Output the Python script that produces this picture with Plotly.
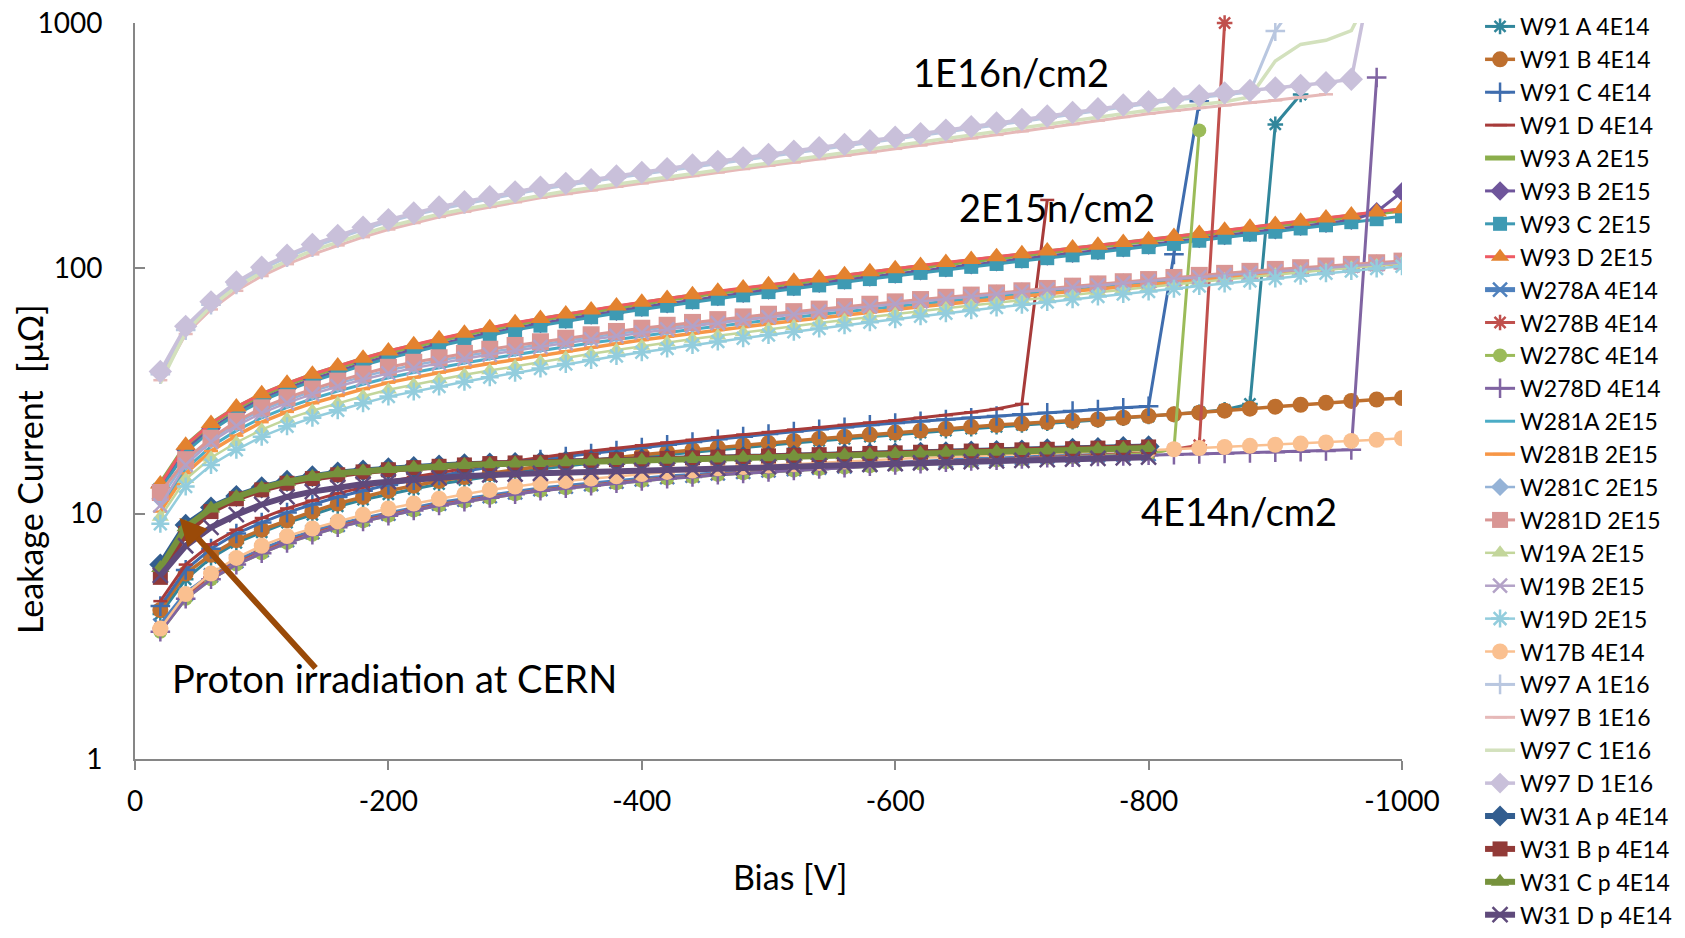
import plotly.graph_objects as go

# ---------------- data ----------------
BIAS = [-20, -40, -60, -80, -100, -120, -140, -160, -180, -200,
        -220, -240, -260, -280, -300, -320, -340, -360, -380, -400,
        -420, -440, -460, -480, -500, -520, -540, -560, -580, -600,
        -620, -640, -660, -680, -700, -720, -740, -760, -780, -800,
        -820, -840, -860, -880, -900, -920, -940, -960, -980, -1000]

X_TICKS = [0, -200, -400, -600, -800, -1000]
X_TICK_TEXT = ["0", "-200", "-400", "-600", "-800", "-1000"]
Y_TICKS = [1, 10, 100, 1000]
Y_TICK_TEXT = ["1", "10", "100", "1000"]

W91_A = [3.9, 5.4, 6.6, 7.6, 8.4, 9.2, 9.9, 10.7, 11.4, 12.0,
         12.6, 13.2, 13.7, 14.2, 14.7, 15.2, 15.6, 16.1, 16.5, 17.0,
         17.4, 17.8, 18.2, 18.6, 19.0, 19.4, 19.8, 20.2, 20.6, 21.0,
         21.4, 21.8, 22.2, 22.6, 23.0, 23.4, 23.7, 24.1, 24.5, 24.9,
         25.4, 25.9, 26.5, 28.0, 386, 511]
W91_B = [4.05, 5.7, 6.8, 7.8, 8.6, 9.4, 10.2, 11.0, 11.7, 12.4,
         13.0, 13.6, 14.1, 14.6, 15.1, 15.6, 16.0, 16.5, 16.9, 17.4,
         17.8, 18.2, 18.6, 19.0, 19.4, 19.8, 20.2, 20.6, 21.0, 21.4,
         21.8, 22.2, 22.6, 23.0, 23.3, 23.6, 23.9, 24.2, 24.6, 25.0,
         25.4, 25.8, 26.3, 26.8, 27.3, 27.8, 28.3, 28.8, 29.2, 29.6]
W91_C = [4.2, 5.9, 7.2, 8.3, 9.2, 10.1, 10.9, 11.7, 12.4, 13.1,
         13.7, 14.3, 14.9, 15.5, 16.0, 16.6, 17.1, 17.6, 18.1, 18.6,
         19.1, 19.6, 20.1, 20.6, 21.1, 21.6, 22.1, 22.5, 23.0, 23.4,
         23.8, 24.2, 24.6, 25.0, 25.4, 25.8, 26.2, 26.6, 27.0, 27.4,
         114, 480]
W91_D = [4.4, 6.2, 7.5, 8.6, 9.6, 10.5, 11.3, 12.1, 12.8, 13.5,
         14.1, 14.7, 15.3, 15.9, 16.4, 17.0, 17.5, 18.0, 18.5, 19.0,
         19.5, 20.0, 20.5, 21.0, 21.5, 22.0, 22.5, 23.0, 23.5, 24.0,
         24.6, 25.2, 25.9, 26.7, 28.0, 190]
W93_A = [13.2, 18.9, 23.2, 27.0, 30.5, 33.7, 36.7, 39.7, 42.6, 45.6,
         48.3, 51.1, 53.8, 56.6, 59.4, 61.9, 64.4, 67.0, 69.5, 72.1,
         74.6, 77.2, 79.7, 82.3, 84.8, 87.6, 90.3, 93.1, 95.8, 98.6,
         101.5, 104.5, 107.5, 110.5, 113.4, 116.6, 119.8, 123.0, 126.1, 129.3,
         133.3, 137.4, 141.4, 145.4, 149.5, 154.1, 158.8, 163.4, 168.1, 172.8]
W93_B = [12.8, 18.2, 22.2, 25.9, 29.4, 32.4, 35.3, 38.1, 41.0, 43.9,
         46.5, 49.2, 51.8, 54.5, 57.1, 59.6, 62.0, 64.5, 66.9, 69.4,
         71.8, 74.3, 76.7, 79.2, 81.6, 84.3, 86.9, 89.6, 92.2, 94.9,
         97.7, 100.6, 103.4, 106.3, 109.1, 112.2, 115.3, 118.3, 121.4, 124.4,
         128.3, 132.2, 136.1, 139.9, 143.8, 148.3, 152.8, 157.0, 170.0, 205.0]
W93_C = [12.5, 17.8, 21.8, 25.4, 28.8, 31.8, 34.6, 37.4, 40.2, 43.0,
         45.6, 48.2, 50.8, 53.4, 56.0, 58.4, 60.8, 63.2, 65.6, 68.0,
         70.4, 72.8, 75.2, 77.6, 80.0, 82.6, 85.2, 87.8, 90.4, 93.0,
         95.8, 98.6, 101.4, 104.2, 107.0, 110.0, 113.0, 116.0, 119.0, 122.0,
         125.8, 129.6, 133.4, 137.2, 141.0, 145.4, 149.8, 154.2, 158.6, 163.0]
W93_D = [13.2, 19.0, 23.3, 27.2, 30.8, 34.0, 37.0, 40.0, 43.0, 46.0,
         48.8, 51.6, 54.4, 57.2, 60.0, 62.5, 65.1, 67.7, 70.3, 72.8,
         75.4, 78.0, 80.6, 83.1, 85.7, 88.5, 91.3, 94.1, 96.9, 99.7,
         102.6, 105.6, 108.6, 111.6, 114.6, 117.8, 121.0, 124.2, 127.5, 130.7,
         134.7, 138.8, 142.9, 147.0, 151.0, 155.7, 160.4, 165.1, 169.8, 175.0]
W278A = [3.5, 4.7, 5.6, 6.4, 7.1, 7.8, 8.4, 9.0, 9.5, 10.0,
         10.5, 11.0, 11.4, 11.8, 12.2, 12.6, 12.9, 13.2, 13.5, 13.8,
         14.1, 14.3, 14.6, 14.8, 15.0, 15.2, 15.4, 15.6, 15.8, 16.0,
         16.2, 16.4, 16.6, 16.7, 16.9, 17.1, 17.2, 17.3, 17.4, 17.5]
W278B = [3.4, 4.6, 5.5, 6.3, 7.0, 7.7, 8.3, 8.9, 9.4, 9.9,
         10.4, 10.9, 11.3, 11.7, 12.1, 12.5, 12.8, 13.1, 13.4, 13.7,
         14.0, 14.2, 14.5, 14.7, 14.9, 15.1, 15.3, 15.5, 15.7, 15.9,
         16.1, 16.3, 16.5, 16.6, 16.8, 17.0, 17.1, 17.3, 17.5, 17.7,
         18.3, 19.0, 1000]
W278C = [3.3, 4.5, 5.4, 6.2, 6.9, 7.6, 8.2, 8.8, 9.3, 9.8,
         10.3, 10.8, 11.2, 11.6, 12.0, 12.4, 12.7, 13.0, 13.3, 13.6,
         13.9, 14.1, 14.4, 14.6, 14.8, 15.0, 15.2, 15.4, 15.6, 15.8,
         16.0, 16.2, 16.4, 16.5, 16.7, 16.9, 17.0, 17.2, 17.4, 17.6,
         18.3, 365]
W278D = [3.3, 4.5, 5.4, 6.2, 6.9, 7.6, 8.2, 8.8, 9.3, 9.8,
         10.3, 10.8, 11.2, 11.6, 12.0, 12.4, 12.7, 13.0, 13.3, 13.6,
         13.9, 14.1, 14.4, 14.6, 14.8, 15.0, 15.2, 15.4, 15.6, 15.8,
         16.0, 16.2, 16.4, 16.5, 16.7, 16.9, 17.0, 17.1, 17.2, 17.3,
         17.4, 17.5, 17.6, 17.7, 17.8, 17.9, 18.0, 18.2, 600]
W281A = [10.6, 15.2, 18.8, 21.8, 24.6, 27.1, 29.4, 31.6, 33.7, 35.8,
         37.6, 39.4, 41.1, 42.8, 44.5, 46.2, 47.9, 49.6, 51.3, 53.0,
         54.7, 56.4, 58.1, 59.8, 61.5, 63.2, 64.9, 66.6, 68.3, 70.0,
         71.7, 73.4, 75.1, 76.8, 78.5, 80.2, 81.9, 83.6, 85.3, 87.0,
         88.8, 90.6, 92.4, 94.2, 96.0, 97.8, 99.6, 101.4, 103.2, 105.0]
W281B = [10.2, 14.6, 18.0, 20.8, 23.6, 26.0, 28.2, 30.2, 32.2, 34.2,
         35.9, 37.6, 39.3, 40.9, 42.5, 44.2, 45.9, 47.6, 49.3, 51.0,
         52.7, 54.4, 56.1, 57.7, 59.4, 61.1, 62.8, 64.5, 66.2, 67.9,
         69.7, 71.5, 73.3, 75.1, 76.9, 78.8, 80.6, 82.4, 84.2, 86.0,
         87.9, 89.8, 91.7, 93.6, 95.5, 97.4, 99.3, 101.2, 103.1, 105.0]
W281C = [11.5, 16.3, 20.0, 23.4, 26.4, 29.0, 31.5, 33.9, 36.2, 38.4,
         40.3, 42.1, 43.9, 45.6, 47.3, 49.0, 50.7, 52.4, 54.1, 55.8,
         57.5, 59.1, 60.8, 62.4, 64.1, 65.7, 67.4, 69.0, 70.7, 72.3,
         74.0, 75.6, 77.3, 78.9, 80.6, 82.3, 84.1, 85.8, 87.6, 89.3,
         91.1, 92.8, 94.6, 96.3, 98.1, 99.7, 101.4, 103.0, 104.7, 106.3]
W281D = [12.2, 16.6, 20.3, 23.8, 27.0, 29.7, 32.2, 34.7, 37.1, 39.5,
         41.4, 43.2, 45.0, 46.8, 48.5, 50.2, 51.9, 53.6, 55.3, 57.0,
         58.6, 60.2, 61.8, 63.4, 65.0, 66.6, 68.2, 69.8, 71.4, 73.0,
         74.6, 76.2, 77.8, 79.4, 81.0, 82.8, 84.6, 86.4, 88.2, 90.0,
         91.8, 93.6, 95.4, 97.2, 99.0, 100.6, 102.2, 103.8, 105.4, 107.0]
W19A = [9.7, 13.8, 16.9, 19.5, 22.0, 24.3, 26.3, 28.2, 30.1, 32.0,
        33.6, 35.2, 36.8, 38.3, 39.9, 41.6, 43.2, 44.9, 46.5, 48.2,
        49.8, 51.5, 53.1, 54.8, 56.4, 58.1, 59.9, 61.6, 63.4, 65.1,
        66.9, 68.7, 70.6, 72.4, 74.3, 76.2, 78.1, 80.0, 81.9, 83.8,
        85.9, 88.0, 90.1, 92.2, 94.3, 96.4, 98.5, 100.6, 102.7, 104.8]
W19B = [10.8, 15.8, 19.6, 22.8, 25.7, 28.3, 30.7, 33.0, 35.2, 37.3,
        39.2, 41.0, 42.8, 44.5, 46.2, 47.9, 49.6, 51.3, 53.0, 54.7,
        56.4, 58.1, 59.8, 61.5, 63.2, 64.9, 66.6, 68.3, 70.0, 71.7,
        73.4, 75.1, 76.8, 78.5, 80.2, 81.9, 83.6, 85.3, 87.0, 88.7,
        90.4, 92.1, 93.8, 95.5, 97.2, 98.9, 100.6, 102.3, 104.0, 105.7]
W19D = [9.1, 12.9, 15.8, 18.2, 20.6, 22.7, 24.6, 26.4, 28.2, 30.0,
        31.5, 33.0, 34.5, 36.0, 37.5, 39.1, 40.7, 42.3, 43.9, 45.5,
        47.1, 48.7, 50.3, 51.9, 53.5, 55.2, 56.9, 58.6, 60.3, 62.0,
        63.8, 65.6, 67.4, 69.2, 71.0, 72.9, 74.8, 76.7, 78.6, 80.5,
        82.6, 84.7, 86.8, 88.9, 91.0, 93.2, 95.4, 97.6, 99.8, 102.0]
W17B = [3.4, 4.7, 5.7, 6.6, 7.4, 8.1, 8.7, 9.3, 9.9, 10.5,
        11.0, 11.5, 12.0, 12.5, 12.9, 13.3, 13.6, 13.9, 14.2, 14.5,
        14.8, 15.0, 15.3, 15.5, 15.7, 15.9, 16.1, 16.3, 16.5, 16.7,
        16.9, 17.0, 17.2, 17.3, 17.5, 17.6, 17.8, 17.9, 18.0, 18.1,
        18.3, 18.5, 18.7, 18.9, 19.1, 19.3, 19.5, 19.8, 20.0, 20.3]
W97_A = [37, 56, 71, 86, 99, 111, 122, 133, 144, 155,
         165, 174, 183, 192, 201, 210, 218, 226, 234, 242,
         250, 259, 268, 277, 286, 295, 304, 314, 325, 336,
         347, 359, 371, 384, 397, 411, 425, 440, 455, 470,
         484, 497, 510, 523, 927, 1300]
W97_B = [35, 54, 68, 81, 93, 104, 114, 124, 134, 144,
         153, 162, 170, 178, 186, 194, 201, 208, 215, 222,
         230, 238, 246, 254, 262, 270, 279, 288, 297, 307,
         317, 328, 339, 350, 362, 374, 387, 400, 414, 427,
         439, 451, 462, 473, 484, 497, 512]
W97_C = [34, 55, 70, 84, 96, 107, 118, 128, 138, 148,
         157, 166, 174, 182, 190, 198, 206, 213, 220, 228,
         236, 244, 252, 261, 269, 278, 287, 296, 306, 316,
         327, 338, 349, 361, 373, 386, 399, 413, 427, 441,
         454, 466, 478, 500, 700, 818, 850, 930, 1500]
W97_D = [38, 58, 73, 88, 101, 113, 125, 136, 147, 158,
         168, 178, 187, 196, 205, 214, 222, 230, 238, 246,
         255, 264, 273, 282, 291, 300, 310, 320, 331, 342,
         354, 366, 378, 391, 404, 418, 432, 447, 463, 478,
         492, 506, 519, 531, 543, 556, 571, 590, 2000]
W31_A = [6.2, 9.0, 10.6, 11.8, 12.8, 13.6, 14.2, 14.7, 15.0, 15.3,
         15.5, 15.7, 15.9, 16.0, 16.1, 16.2, 16.3, 16.4, 16.5, 16.6,
         16.7, 16.8, 16.9, 17.0, 17.1, 17.2, 17.3, 17.4, 17.5, 17.6,
         17.7, 17.8, 17.9, 18.0, 18.1, 18.3, 18.4, 18.5, 18.7, 18.8]
W31_B = [5.5, 8.3, 10.2, 11.5, 12.5, 13.3, 13.9, 14.4, 14.8, 15.1,
         15.4, 15.6, 15.8, 16.0, 16.1, 16.2, 16.4, 16.5, 16.6, 16.7,
         16.8, 16.9, 17.0, 17.1, 17.2, 17.3, 17.4, 17.5, 17.6, 17.7,
         17.8, 17.9, 18.0, 18.1, 18.2, 18.3, 18.4, 18.5, 18.6, 18.7]
W31_C = [6.0, 8.8, 10.5, 11.7, 12.7, 13.5, 14.1, 14.6, 14.9, 15.2,
         15.4, 15.6, 15.8, 15.9, 16.0, 16.1, 16.2, 16.3, 16.4, 16.5,
         16.6, 16.7, 16.8, 16.9, 17.0, 17.1, 17.2, 17.3, 17.4, 17.5,
         17.6, 17.7, 17.8, 17.9, 18.0, 18.1, 18.2, 18.3, 18.4, 18.5]
W31_D = [5.6, 7.4, 8.8, 9.9, 10.9, 11.7, 12.3, 12.8, 13.2, 13.5,
         13.8, 14.0, 14.2, 14.4, 14.5, 14.6, 14.7, 14.8, 14.9, 15.0,
         15.1, 15.2, 15.3, 15.4, 15.5, 15.6, 15.7, 15.8, 15.9, 16.0,
         16.1, 16.2, 16.3, 16.4, 16.5, 16.6, 16.7, 16.8, 16.9, 17.0]

SERIES = [
    ("W91 A 4E14", W91_A), ("W91 B 4E14", W91_B), ("W91 C 4E14", W91_C), ("W91 D 4E14", W91_D),
    ("W93 A 2E15", W93_A), ("W93 B 2E15", W93_B), ("W93 C 2E15", W93_C), ("W93 D 2E15", W93_D),
    ("W278A 4E14", W278A), ("W278B 4E14", W278B), ("W278C 4E14", W278C), ("W278D 4E14", W278D),
    ("W281A 2E15", W281A), ("W281B 2E15", W281B), ("W281C 2E15", W281C), ("W281D 2E15", W281D),
    ("W19A 2E15", W19A), ("W19B 2E15", W19B), ("W19D 2E15", W19D), ("W17B 4E14", W17B),
    ("W97 A 1E16", W97_A), ("W97 B 1E16", W97_B), ("W97 C 1E16", W97_C), ("W97 D 1E16", W97_D),
    ("W31 A p 4E14", W31_A), ("W31 B p 4E14", W31_B), ("W31 C p 4E14", W31_C), ("W31 D p 4E14", W31_D),
]

# ---------------- styles ----------------
# (line colour, line width, marker symbol or None, marker size, marker colour)
STYLE = {
    "W91 A 4E14": ("#31869B", 3, "asterisk-open", 13, "#31869B"),
    "W91 B 4E14": ("#BE6F2E", 3.5, "circle", 16, "#BE6F2E"),
    "W91 C 4E14": ("#3F6DAE", 3, "cross-thin-open", 14, "#3F6DAE"),
    "W91 D 4E14": ("#A73B3A", 3, "line-ew-open", 10, "#A73B3A"),
    "W93 A 2E15": ("#8BAE4C", 5, None, 0, "#8BAE4C"),
    "W93 B 2E15": ("#6F559B", 3, "diamond", 15, "#6F559B"),
    "W93 C 2E15": ("#3E9AB3", 3, "square", 14, "#3E9AB3"),
    "W93 D 2E15": ("#EE5A63", 3, "triangle-up", 18, "#E3822F"),
    "W278A 4E14": ("#4F81BD", 5, "x-thin-open", 14, "#4F81BD"),
    "W278B 4E14": ("#C0504D", 3, "asterisk-open", 13, "#C0504D"),
    "W278C 4E14": ("#9BBB59", 3, "circle", 14, "#9BBB59"),
    "W278D 4E14": ("#8064A2", 3, "cross-thin-open", 14, "#8064A2"),
    "W281A 2E15": ("#4BACC6", 3, None, 0, "#4BACC6"),
    "W281B 2E15": ("#F79646", 3.5, "line-ew-open", 10, "#F79646"),
    "W281C 2E15": ("#95B3D7", 2.5, "diamond", 14, "#95B3D7"),
    "W281D 2E15": ("#D99694", 3, "square", 17, "#D99694"),
    "W19A 2E15": ("#C3D69B", 2.5, "triangle-up", 15, "#C3D69B"),
    "W19B 2E15": ("#B3A2C7", 2.5, "x-thin-open", 14, "#B3A2C7"),
    "W19D 2E15": ("#93CDDD", 2.5, "asterisk-open", 15, "#93CDDD"),
    "W17B 4E14": ("#FAC090", 2.5, "circle", 16, "#FAC090"),
    "W97 A 1E16": ("#B9C7E0", 3, "cross-thin-open", 14, "#B9C7E0"),
    "W97 B 1E16": ("#E6B9B8", 3, "line-ew-open", 10, "#E6B9B8"),
    "W97 C 1E16": ("#D3E1BD", 3.5, None, 0, "#D3E1BD"),
    "W97 D 1E16": ("#C9C0DA", 3.5, "diamond", 18, "#C9C0DA"),
    "W31 A p 4E14": ("#325D8F", 6, "diamond", 17, "#325D8F"),
    "W31 B p 4E14": ("#923A37", 6, "square", 15, "#923A37"),
    "W31 C p 4E14": ("#76923C", 6, "triangle-up", 16, "#76923C"),
    "W31 D p 4E14": ("#5F4A7B", 6, "x-thin-open", 15, "#5F4A7B"),
}

fig = go.Figure()
for name, vals in SERIES:
    lc, lw, sym, ms, mc = STYLE[name]
    kw = dict(
        x=BIAS[:len(vals)], y=vals, name=name,
        line=dict(color=lc, width=lw),
    )
    if sym is None:
        kw["mode"] = "lines"
    else:
        kw["mode"] = "lines+markers"
        open_sym = sym.endswith("-open")
        kw["marker"] = dict(symbol=sym, size=ms, color=mc,
                            line=dict(width=2.5 if open_sym else 0, color=mc))
    if name == "W278B 4E14":
        kw["cliponaxis"] = False
    fig.add_trace(go.Scatter(**kw))

AXIS_GREY = "#868686"
FONT = "Lato, 'Open Sans', sans-serif"

fig.update_layout(
    width=1685, height=938,
    margin=dict(l=135, r=283, t=23, b=179, autoexpand=False),
    paper_bgcolor="white", plot_bgcolor="white",
    font=dict(family=FONT, color="black"),
    showlegend=True,
    legend=dict(x=1.0616, xanchor="left", y=1.0245, yanchor="top",
                maxheight=938,
                font=dict(size=23, family=FONT, color="black"),
                bgcolor="rgba(0,0,0,0)", tracegroupgap=0),
    xaxis=dict(range=[0, -1000], tickvals=X_TICKS, ticktext=X_TICK_TEXT,
               showgrid=False, zeroline=False, showline=True,
               linecolor=AXIS_GREY, linewidth=2,
               ticks="outside", ticklen=9, tickwidth=2, tickcolor=AXIS_GREY,
               tickfont=dict(size=28), ticklabelstandoff=7),
    yaxis=dict(type="log", range=[0, 3], tickvals=Y_TICKS, ticktext=Y_TICK_TEXT,
               showgrid=False, zeroline=False, showline=True,
               linecolor=AXIS_GREY, linewidth=2,
               ticks="inside", ticklen=10, tickwidth=2, tickcolor=AXIS_GREY,
               tickfont=dict(size=28), ticklabelstandoff=25),
    annotations=[
        dict(text="Bias [V]", xref="paper", yref="paper", x=0.517, y=-0.159,
             xanchor="center", yanchor="middle", showarrow=False, font=dict(size=34)),
        dict(text="Leakage Current  [μΩ]", xref="paper", yref="paper", x=-0.0837, y=0.394,
             xanchor="center", yanchor="middle", textangle=-90, showarrow=False,
             font=dict(size=34)),
        dict(text="1E16n/cm2", xref="paper", yref="paper", x=0.6125, y=0.9334,
             xanchor="left", yanchor="middle", showarrow=False, font=dict(size=38)),
        dict(text="2E15n/cm2", xref="paper", yref="paper", x=0.6488, y=0.7495,
             xanchor="left", yanchor="middle", showarrow=False, font=dict(size=38)),
        dict(text="4E14n/cm2", xref="paper", yref="paper", x=0.7924, y=0.3363,
             xanchor="left", yanchor="middle", showarrow=False, font=dict(size=38)),
        dict(text="Proton irradiation at CERN", xref="paper", yref="paper", x=0.0276, y=0.110,
             xanchor="left", yanchor="middle", showarrow=False, font=dict(size=38)),
        dict(text="", xref="paper", yref="paper", x=0.0351, y=0.3274,
             ax=137.5, ay=151.5, showarrow=True, arrowhead=2, arrowsize=0.9,
             arrowwidth=6, arrowcolor="#9A4A08"),
    ],
)

fig.write_html("out.html")
